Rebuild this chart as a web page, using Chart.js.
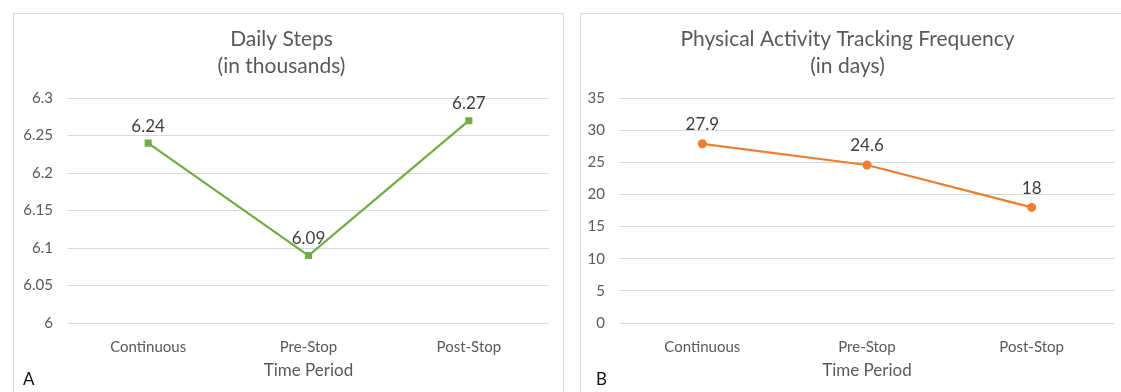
<!DOCTYPE html>
<html>
<head>
<meta charset="utf-8">
<script src="https://cdn.jsdelivr.net/npm/chart.js@4.4.1/dist/chart.umd.min.js"></script>
<style>
  html, body { margin: 0; padding: 0; background: #fff; overflow: hidden; }
  body { width: 1121px; height: 392px; position: relative; font-family: Lato, "Open Sans", sans-serif; }
  .panel { position: absolute; box-sizing: border-box; border: 1px solid #d9d9d9; background: #fff; }
  .wrap { position: absolute; }
  .tag { position: absolute; font-size: 17px; color: #111; line-height: 1; }
</style>
</head>
<body>
<div class="panel" style="left:13px; top:13px; width:551px; height:400px;"></div>
<div class="panel" style="left:580px; top:13px; width:560px; height:400px;"></div>
<div class="wrap" style="left:14px; top:14px;"><canvas id="stepsChart" width="548" height="378"></canvas></div>
<div class="wrap" style="left:581px; top:14px;"><canvas id="trackChart" width="540" height="378"></canvas></div>
<div class="tag" style="left:23px; top:370px;">A</div>
<div class="tag" style="left:596px; top:370px;">B</div>
<script>
// Time periods shared by both panels
const periods = ['Continuous', 'Pre-Stop', 'Post-Stop'];

// Panel A: daily steps (thousands)
const dailySteps = [6.24, 6.09, 6.27];
const stepsTicks = ['6', '6.05', '6.1', '6.15', '6.2', '6.25', '6.3'];

// Panel B: tracking frequency (days)
const trackingDays = [27.9, 24.6, 18];
const trackTicks = ['0', '5', '10', '15', '20', '25', '30', '35'];

const FONT = 'Lato, "Open Sans", sans-serif';
const GREY = '#595959';
const GRID = '#d9d9d9';

// Writes each point's value just above its marker
const valueLabels = {
  id: 'valueLabels',
  afterDatasetsDraw(chart) {
    const ctx = chart.ctx;
    ctx.save();
    ctx.font = '17px ' + FONT;
    ctx.fillStyle = '#404040';
    ctx.textAlign = 'center';
    ctx.textBaseline = 'middle';
    chart.data.datasets.forEach((ds, i) => {
      chart.getDatasetMeta(i).data.forEach((pt, j) => {
        ctx.fillText(String(ds.data[j]), pt.x, pt.y - chart.options.plugins.valueLabels.offset);
      });
    });
    ctx.restore();
  }
};

function makeChart(id, titleLines, values, color, pointStyle, radius, min, max, step, tickLabels, yWidth, rightPad, labelOffset) {
  return new Chart(document.getElementById(id), {
    type: 'line',
    data: {
      labels: periods,
      datasets: [{
        data: values,
        borderColor: color,
        backgroundColor: color,
        borderWidth: 2.25,
        pointStyle: pointStyle,
        pointRadius: radius,
        pointHoverRadius: radius,
        pointBorderWidth: 0,
        tension: 0
      }]
    },
    options: {
      responsive: false,
      animation: false,
      layout: { padding: { left: 0, right: rightPad, top: 0, bottom: 0 } },
      plugins: {
        legend: { display: false },
        tooltip: { enabled: false },
        valueLabels: { offset: labelOffset },
        title: {
          display: true,
          text: titleLines,
          color: GREY,
          font: { family: FONT, size: 21, weight: 'normal', lineHeight: 1.29 },
          padding: { top: 11.5, bottom: 18.5 }
        }
      },
      scales: {
        x: {
          offset: true,
          grid: { display: false, drawTicks: false },
          border: { display: false },
          ticks: { color: GREY, font: { family: FONT, size: 15 }, padding: 15, maxRotation: 0 },
          title: {
            display: true,
            text: 'Time Period',
            color: GREY,
            font: { family: FONT, size: 17 },
            padding: { top: 0, bottom: 10.8 }
          },
          afterFit: (s) => { s.height = 69; }
        },
        y: {
          min: min,
          max: max,
          grid: { color: GRID, lineWidth: 1, drawTicks: false },
          border: { display: false },
          ticks: {
            stepSize: step,
            color: GREY,
            padding: 15,
            font: { family: FONT, size: 15 },
            callback: (v, i) => tickLabels[i] !== undefined ? tickLabels[i] : String(v)
          },
          afterFit: (s) => { s.width = yWidth; }
        }
      }
    },
    plugins: [valueLabels]
  });
}

makeChart('stepsChart', ['Daily Steps', '(in thousands)'], dailySteps, '#70AD47', 'rect', 5,
  6, 6.3, 0.05, stepsTicks, 54, 13, 17);
makeChart('trackChart', ['Physical Activity Tracking Frequency', '(in days)'], trackingDays, '#ED7D31', 'circle', 4.5,
  0, 35, 5, trackTicks, 39, 7, 19);
</script>
</body>
</html>
